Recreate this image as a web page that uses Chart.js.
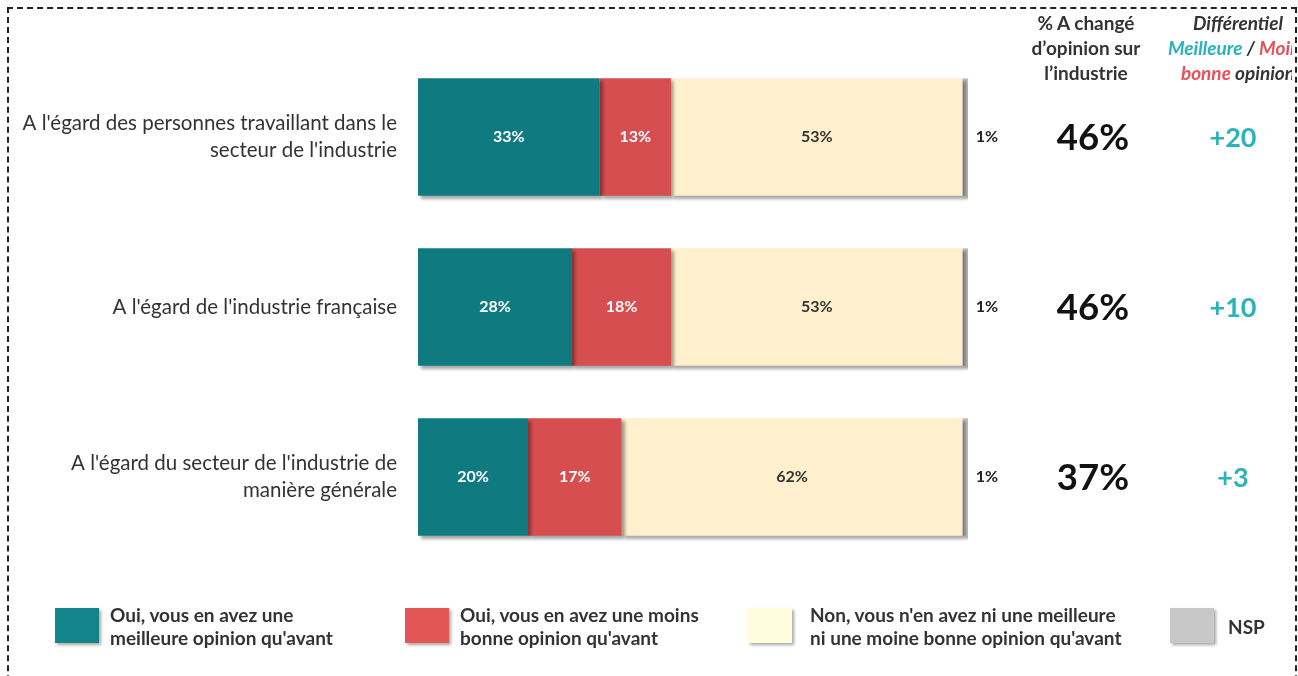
<!DOCTYPE html>
<html>
<head>
<meta charset="utf-8">
<script src="https://cdn.jsdelivr.net/npm/chart.js@4"></script>
<style>
  body { margin: 0; background: #fff; font-family: Lato, "Noto Sans", sans-serif; }
  #wrap { position: relative; width: 1298px; height: 676px; overflow: hidden; }
  #frame { position: absolute; left: 7px; top: 7px; width: 1286px; height: 720px; border: 2px dashed #222; }
  canvas { position: absolute; left: 0; top: 0; }
  .head { position: absolute; font-weight: bold; font-size: 19px; line-height: 25px; color: #333; text-align: center; white-space: nowrap; }
  #clip { position: absolute; left: 0; top: 0; width: 1292px; height: 100px; overflow: hidden; }
  .leg { position: absolute; top: 603px; font-weight: bold; font-size: 19px; line-height: 23px; color: #333; white-space: nowrap; }
  .sw { position: absolute; top: 608px; width: 44px; height: 35px; box-shadow: 2px 2px 3px rgba(0,0,0,0.35); }
</style>
</head>
<body>
<div id="wrap">
  <div id="frame"></div>
  <canvas id="chart" width="1298" height="676"></canvas>
  <div class="head" style="left:996px; top:10px; width:180px;">% A changé<br>d’opinion sur<br>l’industrie</div>
  <div id="clip">
    <div class="head" style="left:1138px; top:10px; width:200px; font-style:italic;">
      Différentiel<br><span style="color:#2ab3b8">Meilleure</span> / <span style="color:#e8505b">Moins</span><br><span style="color:#e8505b">bonne</span> opinion
    </div>
  </div>
  <div class="sw" style="left:55px; background:#138489;"></div>
  <div class="leg" style="left:110px;">Oui, vous en avez une<br>meilleure opinion qu'avant</div>
  <div class="sw" style="left:405px; background:#e35656;"></div>
  <div class="leg" style="left:460px;">Oui, vous en avez une moins<br>bonne opinion qu'avant</div>
  <div class="sw" style="left:748px; background:#fffcdc;"></div>
  <div class="leg" style="left:810px;">Non, vous n'en avez ni une meilleure<br>ni une moine bonne opinion qu'avant</div>
  <div class="sw" style="left:1170px; background:#c8c8c8;"></div>
  <div class="leg" style="left:1228px; top:615px;">NSP</div>
</div>
<script>
const categories = [
  ["A l'égard des personnes travaillant dans le", "secteur de l'industrie"],
  ["A l'égard de l'industrie française"],
  ["A l'égard du secteur de l'industrie de", "manière générale"]
];
const meilleure = [33, 28, 20];
const moinsBonne = [13, 18, 17];
const niNi = [53, 53, 62];
const nsp = [1, 1, 1];
const aChange = [46, 46, 37];
const differentiel = [20, 10, 3];

// shadow under the bars
const barShadow = {
  id: "barShadow",
  beforeDatasetsDraw(chart) {
    const c = chart.ctx;
    c.save();
    c.shadowColor = "rgba(0,0,0,0.35)";
    c.shadowOffsetX = 3;
    c.shadowOffsetY = 3;
    c.shadowBlur = 3;
  },
  afterDatasetsDraw(chart) {
    chart.ctx.restore();
  }
};

// category labels, values and right columns
const textPlugin = {
  id: "texts",
  afterDraw(chart) {
    const c = chart.ctx;
    const y = chart.scales.y;
    c.save();
    c.textBaseline = "middle";

    categories.forEach((lines, i) => {
      const cy = y.getPixelForValue(i);
      c.font = "20.5px Lato";
      c.fillStyle = "#333";
      c.textAlign = "right";
      const start = cy - (lines.length - 1) * 27 / 2;
      lines.forEach((l, k) => c.fillText(l, 397, start + k * 27));

      c.font = "bold 36.5px Lato";
      c.fillStyle = "#111";
      c.textAlign = "center";
      c.fillText(aChange[i] + "%", 1093, cy + 1);

      c.font = "bold 27px Lato";
      c.fillStyle = "#2ab3b8";
      c.fillText("+" + differentiel[i], 1233, cy + 1);
    });

    chart.data.datasets.forEach((ds, di) => {
      const meta = chart.getDatasetMeta(di);
      meta.data.forEach((bar, i) => {
        c.font = "bold 16px Lato";
        c.textAlign = "center";
        if (di === 3) {
          c.fillStyle = "#222";
          c.fillText(ds.data[i] + "%", bar.x + 19, bar.y);
        } else {
          c.fillStyle = di === 2 ? "#333" : "#fff";
          c.fillText(ds.data[i] + "%", (bar.base + bar.x) / 2, bar.y);
        }
      });
    });
    c.restore();
  }
};

new Chart(document.getElementById("chart"), {
  type: "bar",
  data: {
    labels: categories,
    datasets: [
      { label: "Oui, vous en avez une meilleure opinion qu'avant", data: meilleure, backgroundColor: "#0f7a80" },
      { label: "Oui, vous en avez une moins bonne opinion qu'avant", data: moinsBonne, backgroundColor: "#d64e50" },
      { label: "Non, vous n'en avez ni une meilleure ni une moine bonne opinion qu'avant", data: niNi, backgroundColor: "#fef0cc" },
      { label: "NSP", data: nsp, backgroundColor: "#bdbdbd" }
    ]
  },
  options: {
    indexAxis: "y",
    responsive: false,
    animation: false,
    layout: { padding: { left: 418, right: 330, top: 52, bottom: 114 } },
    datasets: { bar: { barPercentage: 0.69, categoryPercentage: 1 } },
    scales: {
      x: { stacked: true, min: 0, max: 100, display: false },
      y: { stacked: true, display: false }
    },
    plugins: { legend: { display: false }, tooltip: { enabled: false } }
  },
  plugins: [barShadow, textPlugin]
});
</script>
</body>
</html>
